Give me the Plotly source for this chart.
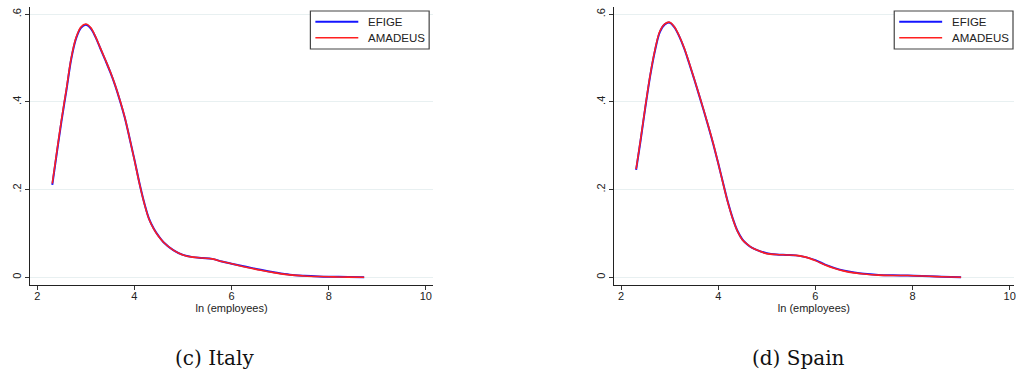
import plotly.graph_objects as go

# Kernel density of ln(employees), Italy
italy_x = [2.31, 2.40, 2.50, 2.60, 2.70, 2.80, 2.90, 3.00, 3.10, 3.20, 3.30, 3.40, 3.50, 3.60,
           3.70, 3.80, 3.90, 4.00, 4.10, 4.20, 4.30, 4.40, 4.50, 4.60, 4.80, 5.00, 5.20, 5.40,
           5.60, 5.80, 6.00, 6.30, 6.60, 6.90, 7.20, 7.50, 7.80, 8.10, 8.40, 8.73]
italy_efige = [0.211, 0.281, 0.357, 0.426, 0.498, 0.545, 0.569, 0.576, 0.568, 0.548, 0.522, 0.496,
               0.469, 0.439, 0.404, 0.365, 0.318, 0.269, 0.217, 0.171, 0.134, 0.111, 0.094, 0.080,
               0.062, 0.051, 0.046, 0.044, 0.042, 0.036, 0.031, 0.024, 0.017, 0.011, 0.006, 0.0035,
               0.002, 0.0012, 0.0005, 0.000]
italy_amadeus = [0.214, 0.284, 0.360, 0.429, 0.500, 0.547, 0.571, 0.578, 0.570, 0.549, 0.523, 0.497,
                 0.470, 0.440, 0.405, 0.366, 0.318, 0.268, 0.216, 0.170, 0.133, 0.110, 0.093, 0.080,
                 0.062, 0.051, 0.046, 0.044, 0.042, 0.036, 0.031, 0.023, 0.016, 0.010, 0.0055, 0.003,
                 0.0017, 0.001, 0.0004, 0.000]

# Kernel density of ln(employees), Spain
spain_x = [2.31, 2.40, 2.50, 2.60, 2.70, 2.80, 2.90, 3.00, 3.10, 3.20, 3.30, 3.40, 3.50, 3.60,
           3.70, 3.80, 3.90, 4.00, 4.10, 4.20, 4.30, 4.40, 4.50, 4.60, 4.70, 4.80, 5.00, 5.20,
           5.40, 5.60, 5.80, 6.00, 6.20, 6.40, 6.60, 6.80, 7.00, 7.30, 7.60, 7.90, 8.20, 8.50,
           8.80, 9.00]
spain_efige = [0.245, 0.311, 0.388, 0.460, 0.518, 0.560, 0.577, 0.581, 0.570, 0.549, 0.522, 0.489,
               0.454, 0.418, 0.381, 0.343, 0.303, 0.260, 0.215, 0.171, 0.134, 0.105, 0.086, 0.075,
               0.067, 0.062, 0.055, 0.052, 0.051, 0.050, 0.046, 0.039, 0.029, 0.021, 0.015, 0.011,
               0.008, 0.0055, 0.0045, 0.004, 0.003, 0.0017, 0.0006, 0.000]
spain_amadeus = [0.247, 0.313, 0.390, 0.462, 0.520, 0.562, 0.578, 0.582, 0.571, 0.550, 0.523, 0.490,
                 0.455, 0.419, 0.382, 0.344, 0.304, 0.260, 0.214, 0.170, 0.133, 0.104, 0.085, 0.075,
                 0.067, 0.062, 0.054, 0.052, 0.051, 0.050, 0.046, 0.038, 0.028, 0.020, 0.014, 0.010,
                 0.0075, 0.005, 0.004, 0.004, 0.003, 0.0015, 0.0005, 0.000]

y_tickvals = [0, 0.2, 0.4, 0.6]
y_ticktext = ["0", ".2", ".4", ".6"]
x_tickvals = [2, 4, 6, 8, 10]
series_names = ["EFIGE", "AMADEUS"]
captions = ["(c) Italy", "(d) Spain"]

BLUE = "#1414ff"
RED = "#ff1f1f"
W, H = 1016, 374
SANS = "Liberation Sans, Arial, sans-serif"

fig = go.Figure()

panels = [
    (italy_x, italy_efige, italy_amadeus, "x", "y"),
    (spain_x, spain_efige, spain_amadeus, "x2", "y2"),
]
for xs, ef, am, xa, ya in panels:
    fig.add_trace(go.Scatter(x=xs, y=ef, mode="lines", name=series_names[0], showlegend=False,
                             line=dict(color=BLUE, width=2, shape="spline", smoothing=1.0),
                             xaxis=xa, yaxis=ya))
    fig.add_trace(go.Scatter(x=xs, y=am, mode="lines", name=series_names[1], showlegend=False,
                             line=dict(color=RED, width=1.6, shape="spline", smoothing=1.0),
                             xaxis=xa, yaxis=ya))

tick_font = dict(family=SANS, size=11, color="#222")

def xaxis(domain, rng, anchor):
    return dict(domain=domain, range=rng, anchor=anchor, tickvals=x_tickvals, ticks="outside",
                ticklen=4, tickwidth=1, tickcolor="#333", showline=True, linecolor="#222",
                linewidth=1.2, showgrid=False, zeroline=False, tickfont=tick_font,
                ticklabelstandoff=-3, ticklabeloverflow="allow",
                title=dict(text="ln (employees)", font=tick_font, standoff=0))

def yaxis(anchor):
    return dict(domain=[1 - 285 / H, 1 - 7 / H], range=[-0.0176, 0.6167], anchor=anchor,
                tickvals=y_tickvals, ticktext=y_ticktext, tickangle=-90, ticks="outside",
                ticklen=4, tickwidth=1, tickcolor="#333", showline=True, linecolor="#222",
                linewidth=1.2, showgrid=True, gridcolor="#e8f0f1", gridwidth=1,
                zeroline=False, tickfont=tick_font, ticklabelstandoff=-1)

fig.update_layout(
    width=W, height=H,
    margin=dict(l=0, r=0, t=0, b=0),
    paper_bgcolor="white", plot_bgcolor="white",
    xaxis=xaxis([30 / W, 434 / W], [1.85, 10.15], "y"),
    yaxis=yaxis("x"),
    xaxis2=xaxis([615 / W, 1.0], [1.85, 10.089], "y2"),
    yaxis2=yaxis("x2"),
    showlegend=False,
)

# Legend boxes: one per panel, drawn in pixel-based paper coordinates
def px(xp):
    return xp / W

def py(yp):
    return 1 - yp / H

for box_left in [311, 896]:
    fig.add_shape(type="rect", xref="paper", yref="paper",
                  x0=px(box_left), x1=px(box_left + 119), y0=py(11), y1=py(49),
                  line=dict(color="#444", width=1.2), fillcolor="white", layer="above")
    for name, color, width, yp in [(series_names[0], BLUE, 2, 21.7), (series_names[1], RED, 1.6, 37.7)]:
        fig.add_shape(type="line", xref="paper", yref="paper",
                      x0=px(box_left + 5), x1=px(box_left + 48), y0=py(yp), y1=py(yp),
                      line=dict(color=color, width=width), layer="above")
        fig.add_annotation(text=name, xref="paper", yref="paper", x=px(box_left + 56), y=py(yp),
                           xanchor="left", yanchor="middle", showarrow=False,
                           font=dict(family=SANS, size=11.5, color="#222"))

for text, cx in zip(captions, [215, 800]):
    fig.add_annotation(text=text, xref="paper", yref="paper", x=px(cx), y=py(358),
                       xanchor="center", yanchor="middle", showarrow=False,
                       font=dict(family="DejaVu Serif, Liberation Serif, serif", size=20,
                                 color="#111"))

fig.write_html("out.html")
